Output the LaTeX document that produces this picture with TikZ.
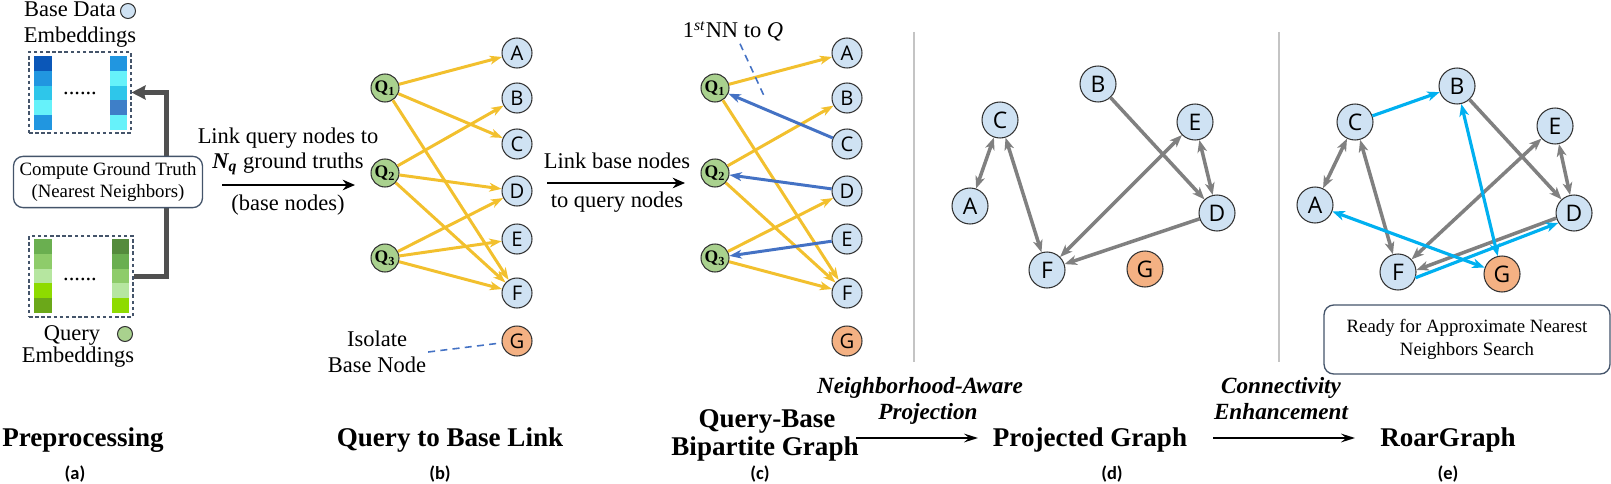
\documentclass[tikz,border=0pt]{standalone}
\usepackage{fontspec}
\setmainfont{Liberation Serif}
\newfontfamily\letterfont{Open Sans}
\newfontfamily\capfont{Carlito}
\usetikzlibrary{arrows.meta,calc}

\definecolor{baseblue}{RGB}{207,226,243}
\definecolor{qgreen}{RGB}{169,209,142}
\definecolor{gorange}{RGB}{244,177,131}
\definecolor{gtyellow}{RGB}{242,192,46}
\definecolor{nnblue}{RGB}{68,114,196}
\definecolor{edgegrey}{RGB}{128,128,128}
\definecolor{addcyan}{RGB}{0,176,240}
\definecolor{boxblue}{RGB}{68,84,106}
\definecolor{sepgrey}{RGB}{196,196,196}
\definecolor{arrowgrey}{RGB}{80,80,80}
\definecolor{bsq1}{RGB}{11,87,184}
\definecolor{bsq2}{RGB}{33,150,224}
\definecolor{bsq3}{RGB}{46,198,234}
\definecolor{bsq4}{RGB}{102,242,250}
\definecolor{bsq5}{RGB}{62,127,200}
\definecolor{gsq1}{RGB}{106,175,80}
\definecolor{gsq2}{RGB}{142,204,106}
\definecolor{gsq3}{RGB}{182,230,160}
\definecolor{gsq4}{RGB}{142,219,0}
\definecolor{gsq5}{RGB}{107,168,25}
\definecolor{gsq6}{RGB}{84,139,60}

\def\qlab#1{\fontsize{10}{10}\selectfont\textbf{Q}\textsubscript{\textbf{#1}}}

\tikzset{
	txt/.style={font=\fontsize{12.8}{14.8}\selectfont, inner sep=1pt},
	title/.style={font=\fontsize{15.4}{16}\selectfont\bfseries, inner sep=1pt},
	flowtxt/.style={font=\fontsize{13.2}{14}\selectfont\bfseries\itshape, inner sep=0pt},
	sublab/.style={font=\capfont\bfseries\fontsize{10.5}{11}\selectfont, inner sep=1pt},
	gtbox/.style={draw=boxblue, line width=0.75pt, rounded corners=5.5pt, fill=white, align=center, font=\fontsize{10.7}{12.8}\selectfont},
	dashbox/.style={draw=boxblue, line width=0.6pt, dash pattern=on 2pt off 1.5pt, inner sep=0pt},
	legdot/.style={circle, draw=black!80, line width=0.6pt, minimum size=0.3cm, inner sep=0pt},
	bnode/.style={circle, draw=black!80, line width=0.6pt, fill=baseblue, minimum size=0.6cm, inner sep=0pt, font={\letterfont\fontsize{11.5}{12}\selectfont}},
	qnode/.style={circle, draw=black!80, line width=0.6pt, fill=qgreen, minimum size=0.56cm, inner sep=0pt},
	pnode/.style={circle, draw=black!80, line width=0.6pt, fill=baseblue, minimum size=0.72cm, inner sep=0pt, font={\letterfont\fontsize{13}{13}\selectfont}},
	yedge/.style={draw=gtyellow, line width=1.7pt, arrows={-Stealth[length=7pt,width=5pt,inset=2pt]}},
	bedge/.style={draw=nnblue, line width=1.7pt, arrows={-Stealth[length=7pt,width=5pt,inset=2pt]}},
	gedge/.style={draw=edgegrey, line width=2pt, arrows={-Stealth[length=7pt,width=5.5pt,inset=2pt]}},
	cedge/.style={draw=addcyan, line width=1.8pt, arrows={-Stealth[length=7pt,width=5.5pt,inset=2pt]}},
	twoway/.style={arrows={Stealth[length=7pt,width=5.5pt,inset=2pt]-Stealth[length=7pt,width=5.5pt,inset=2pt]}},
	nndash/.style={draw=nnblue, line width=0.9pt, dash pattern=on 4pt off 3pt},
	linkarrow/.style={draw=black, line width=1.7pt, arrows={-Stealth[length=7pt,width=6pt]}},
	flowarrow/.style={draw=black, line width=1.1pt, arrows={-Stealth[length=8pt,width=5pt,inset=3pt]}},
	gtarrow/.style={draw=arrowgrey, line width=2.3pt, arrows={-Stealth[length=8pt,width=8pt,inset=1pt]}},
	sepline/.style={draw=sepgrey, line width=1.1pt}
}

\begin{document}
\begin{tikzpicture}[x=0.02cm, y=-0.02cm]
		%%%%% START %%%%%
		\useasboundingbox (0,0) rectangle (1611,483);
		
		% (a) preprocessing
		\node[txt, anchor=base] (basetxt) at (70,17) {Base Data};
		\node[legdot, fill=baseblue] (baseleg) at (128,11) {};
		\node[txt, anchor=base] (baseemb) at (80,43) {Embeddings};
		\node[dashbox, minimum width=2.04cm, minimum height=1.62cm] (basebox) at (80,92.5) {};
		
		\fill[bsq1] (34,56) rectangle (52,70.8);
		\fill[bsq2] (34,70.8) rectangle (52,85.6);
		\fill[bsq3] (34,85.6) rectangle (52,100.4);
		\fill[bsq4] (34,100.4) rectangle (52,115.2);
		\fill[bsq2] (34,115.2) rectangle (52,130);
		\fill[bsq2] (110,56) rectangle (127,70.8);
		\fill[bsq4] (110,70.8) rectangle (127,85.6);
		\fill[bsq3] (110,85.6) rectangle (127,100.4);
		\fill[bsq5] (110,100.4) rectangle (127,115.2);
		\fill[bsq4] (110,115.2) rectangle (127,130);
		\node[txt, anchor=base] (basedots) at (80,94) {......};
		
		\node[dashbox, minimum width=2.08cm, minimum height=1.62cm] (querybox) at (81,276.5) {};
		\fill[gsq1] (34,239) rectangle (52,253.8);
		\fill[gsq2] (34,253.8) rectangle (52,268.6);
		\fill[gsq3] (34,268.6) rectangle (52,283.4);
		\fill[gsq4] (34,283.4) rectangle (52,298.2);
		\fill[gsq5] (34,298.2) rectangle (52,313);
		\fill[gsq6] (112,239) rectangle (129,253.8);
		\fill[gsq1] (112,253.8) rectangle (129,268.6);
		\fill[gsq2] (112,268.6) rectangle (129,283.4);
		\fill[gsq3] (112,283.4) rectangle (129,298.2);
		\fill[gsq4] (112,298.2) rectangle (129,313);
		\node[txt, anchor=base] (querydots) at (80,280) {......};
		
		\node[txt, anchor=base] (querytxt) at (72,340) {Query};
		\node[legdot, fill=qgreen] (queryleg) at (125,334) {};
		\node[txt, anchor=base] (queryemb) at (78,362) {Embeddings};
		
		\draw[gtarrow] (querybox.east) -- ++(33,0) |- (basebox.east);
		\node[gtbox, minimum width=3.78cm, minimum height=1.02cm] (gtbox) at (108,182) {Compute Ground Truth\\(Nearest Neighbors)};
		
		% (b) query to base link
		\node[txt, anchor=base] (linkq1) at (288,143) {Link query nodes to};
		\node[txt, anchor=base] (linkq2) at (288,168) {\textbf{\textit{N\textsubscript{q}}} ground truths};
		\coordinate (linkqs) at (222,185);
		\coordinate (linkqe) at (355,185);
		\draw[linkarrow] (linkqs) -- (linkqe);
		\node[txt, anchor=base] (linkq3) at (288,210) {(base nodes)};
		
		\node[qnode] (bq1) at (385,88) {\qlab{1}};
		\node[qnode] (bq2) at (385,173) {\qlab{2}};
		\node[qnode] (bq3) at (385,258) {\qlab{3}};
		
		\node[bnode] (ba) at (517,53) {A};
		\node[bnode] (bb) at (517,98) {B};
		\node[bnode] (bc) at (517,144) {C};
		\node[bnode] (bd) at (517,191) {D};
		\node[bnode] (be) at (517,239) {E};
		\node[bnode] (bf) at (517,293) {F};
		\node[bnode, fill=gorange] (bg) at (517,341) {G};
		
		\draw[yedge] (bq1) -- (ba);
		\draw[yedge] (bq1) -- (bc);
		\draw[yedge] (bq1) -- (bf);
		\draw[yedge] (bq2) -- (bb);
		\draw[yedge] (bq2) -- (bd);
		\draw[yedge] (bq2) -- (bf);
		\draw[yedge] (bq3) -- (bd);
		\draw[yedge] (bq3) -- (be);
		\draw[yedge] (bq3) -- (bf);
		
		\node[txt, align=center] (isotxt) at (377,352) {Isolate\\Base Node};
		\draw[nndash] (isotxt.east) -- (bg);
		
		% (c) bipartite graph
		\node[txt, anchor=base] (linkb1) at (617,168) {Link base nodes};
		\coordinate (linkbs) at (547,183);
		\coordinate (linkbe) at (685,183);
		\draw[linkarrow] (linkbs) -- (linkbe);
		\node[txt, anchor=base] (linkb2) at (617,207) {to query nodes};
		
		\node[qnode] (cq1) at (715,88) {\qlab{1}};
		\node[qnode] (cq2) at (715,173) {\qlab{2}};
		\node[qnode] (cq3) at (715,258) {\qlab{3}};
		
		\node[bnode] (ca) at (847,53) {A};
		\node[bnode] (cb) at (847,98) {B};
		\node[bnode] (cc) at (847,144) {C};
		\node[bnode] (cd) at (847,191) {D};
		\node[bnode] (ce) at (847,239) {E};
		\node[bnode] (cf) at (847,293) {F};
		\node[bnode, fill=gorange] (cg) at (847,341) {G};
		
		\draw[yedge] (cq1) -- (ca);
		\draw[yedge] (cq1) -- (cf);
		\draw[yedge] (cq2) -- (cb);
		\draw[yedge] (cq2) -- (cf);
		\draw[yedge] (cq3) -- (cd);
		\draw[yedge] (cq3) -- (cf);
		\draw[bedge] (cc) -- (cq1);
		\draw[bedge] (cd) -- (cq2);
		\draw[bedge] (ce) -- (cq3);
		
		\node[txt, anchor=base] (nntxt) at (733,38) {1\textsuperscript{\textit{st}}NN to \textit{Q}};
		\coordinate (nnend) at (765,98);
		\draw[nndash] (nntxt.south) ++(7,0) -- (nnend);
		
		\draw[sepline] (914,32) -- (914,362);
		\draw[sepline] (1279,32) -- (1279,362);
		
		% (d) projected graph
		\node[pnode] (da) at (970,206) {A};
		\node[pnode] (db) at (1098,84) {B};
		\node[pnode] (dc) at (1000,120) {C};
		\node[pnode] (dd) at (1217,213) {D};
		\node[pnode] (de) at (1195,122) {E};
		\node[pnode] (df) at (1047,270) {F};
		\node[pnode, fill=gorange] (dg) at (1145,269) {G};
		
		\draw[gedge, twoway] (da) -- (dc);
		\draw[gedge, twoway] (dc) -- (df);
		\draw[gedge] (db) -- (dd);
		\draw[gedge, twoway] (de) -- (dd);
		\draw[gedge, twoway] (df) -- (de);
		\draw[gedge] (dd) -- (df);
		
		% (e) roargraph
		\node[pnode] (ea) at (1315,205) {A};
		\node[pnode] (eb) at (1457,86) {B};
		\node[pnode] (ec) at (1355,122) {C};
		\node[pnode] (ed) at (1574,213) {D};
		\node[pnode] (ee) at (1555,126) {E};
		\node[pnode] (ef) at (1398,272) {F};
		\node[pnode, fill=gorange] (eg) at (1502,274) {G};
		
		\draw[gedge, twoway] (ea) -- (ec);
		\draw[gedge, twoway] (ec) -- (ef);
		\draw[gedge] (eb) -- (ed);
		\draw[gedge, twoway] (ee) -- (ed);
		\draw[gedge, twoway] (ef) -- (ee);
		\draw[gedge] (ed.196) -- (ef.6);
		\draw[cedge] (ec) -- (eb);
		\draw[cedge, twoway] (eb) -- (eg);
		\draw[cedge, twoway] (ea) -- (eg);
		\draw[cedge] (ef.342) -- (ed.212);
		
		\node[gtbox, minimum width=5.72cm, minimum height=1.38cm] (readybox) at (1467,339.5) {Ready for Approximate Nearest\\Neighbors Search};
		
		% bottom row
		\node[title, anchor=base] (tpre) at (83,446) {Preprocessing};
		\node[sublab] (la) at (75,474) {(a)};
		\node[title, anchor=base] (tlink) at (450,446) {Query to Base Link};
		\node[sublab] (lb) at (440,474) {(b)};
		\node[title, anchor=base] (tbip1) at (767,427) {Query-Base};
		\node[title, anchor=base] (tbip2) at (765,455) {Bipartite Graph};
		\node[sublab] (lc) at (760,474) {(c)};
		
		\coordinate (proj1) at (856,438);
		\coordinate (proj2) at (978,438);
		\draw[flowarrow] (proj1) -- (proj2);
		\node[flowtxt, anchor=base] (pj1) at (920,393) {Neighborhood-Aware};
		\node[flowtxt, anchor=base] (pj2) at (928,419) {Projection};
		
		\node[title, anchor=base] (tproj) at (1090,446) {Projected Graph};
		\node[sublab] (ld) at (1112,474) {(d)};
		
		\coordinate (conn1) at (1213,438);
		\coordinate (conn2) at (1355,438);
		\draw[flowarrow] (conn1) -- (conn2);
		\node[flowtxt, anchor=base] (cn1) at (1281,393) {Connectivity};
		\node[flowtxt, anchor=base] (cn2) at (1281,419) {Enhancement};
		
		\node[title, anchor=base] (troar) at (1448,446) {RoarGraph};
		\node[sublab] (le) at (1448,474) {(e)};
		
		%%%%% END %%%%%
	\end{tikzpicture}
\end{document}
